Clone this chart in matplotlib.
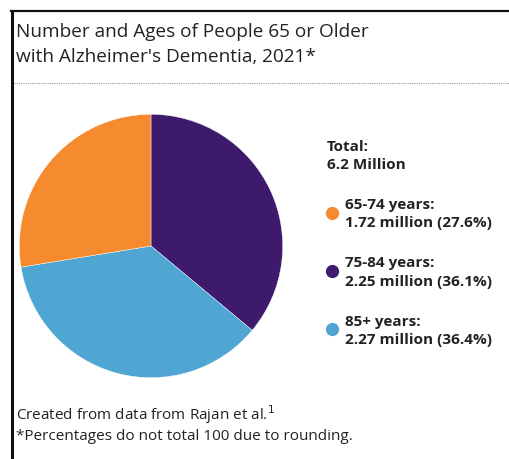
import matplotlib
matplotlib.use("Agg")
import matplotlib.pyplot as plt
from matplotlib.lines import Line2D

plt.rcParams['font.family'] = ['Open Sans', 'DejaVu Sans']

# ─── data ─────────────────────────────────────────────
groups = ['65-74 years:', '75-84 years:', '85+ years:']
millions = [1.72, 2.25, 2.27]
percents = [27.6, 36.1, 36.4]
colors = ['#F68A2E', '#3D1A6B', '#4FA6D3']

W, H = 510, 460
fig = plt.figure(figsize=(W / 100, H / 100), dpi=100)
fig.patch.set_facecolor('white')

def fx(px):
    return px / W

def fy(py):
    return 1 - py / H

# frame: top and left edges only, runs off right/bottom
fig.add_artist(Line2D([fx(12), fx(12)], [fy(12), fy(460)], color='#111111', lw=2.2))
fig.add_artist(Line2D([fx(11), fx(510)], [fy(12), fy(12)], color='#111111', lw=1.6))
# dotted separator under title
fig.add_artist(Line2D([fx(14), fx(510)], [fy(84), fy(84)], color='#999999', lw=0.8,
                      linestyle=(0, (1, 1))))

TXT = '#222222'
fig.text(fx(16), fy(32), 'Number and Ages of People 65 or Older', fontsize=13.7,
         color=TXT, va='center', ha='left')
fig.text(fx(16), fy(57), "with Alzheimer's Dementia, 2021*", fontsize=13.7,
         color=TXT, va='center', ha='left')

# pie: clockwise from top -> 75-84, 85+, 65-74
order = [1, 2, 0]
ax = fig.add_axes([fx(18), 80 / H, 266 / W, 266 / H])
ax.pie([millions[i] for i in order], colors=[colors[i] for i in order],
       startangle=90, counterclock=False, radius=1.0,
       wedgeprops=dict(linewidth=0.3, edgecolor='white'))
ax.set_xlim(-1.01, 1.01)
ax.set_ylim(-1.01, 1.01)
ax.set_aspect('equal')
ax.axis('off')

# legend
LS = 11.0
fig.text(fx(327), fy(147), 'Total:', fontsize=LS, fontweight='bold',
         color=TXT, va='center', ha='left')
fig.text(fx(327), fy(165), '6.2 Million', fontsize=LS, fontweight='bold',
         color=TXT, va='center', ha='left')

rows_y = [(205, 223, 214), (263, 282, 272), (322, 340, 330)]
for i, (y1, y2, yd) in enumerate(rows_y):
    fig.add_artist(Line2D([fx(332)], [fy(yd)], marker='o', markersize=8.5,
                          color=colors[i], linestyle='none'))
    fig.text(fx(345), fy(y1), groups[i], fontsize=LS, fontweight='bold',
             color=TXT, va='center', ha='left')
    fig.text(fx(345), fy(y2), f'{millions[i]:.2f} million ({percents[i]:.1f}%)',
             fontsize=LS, fontweight='bold', color=TXT, va='center', ha='left')

# footer
fig.text(fx(16), fy(415), 'Created from data from Rajan et al.$^{1}$', fontsize=11.0,
         color=TXT, va='center', ha='left')
fig.text(fx(16), fy(437), '*Percentages do not total 100 due to rounding.', fontsize=11.0,
         color=TXT, va='center', ha='left')

fig.savefig('out.png', dpi=100, facecolor='white')
